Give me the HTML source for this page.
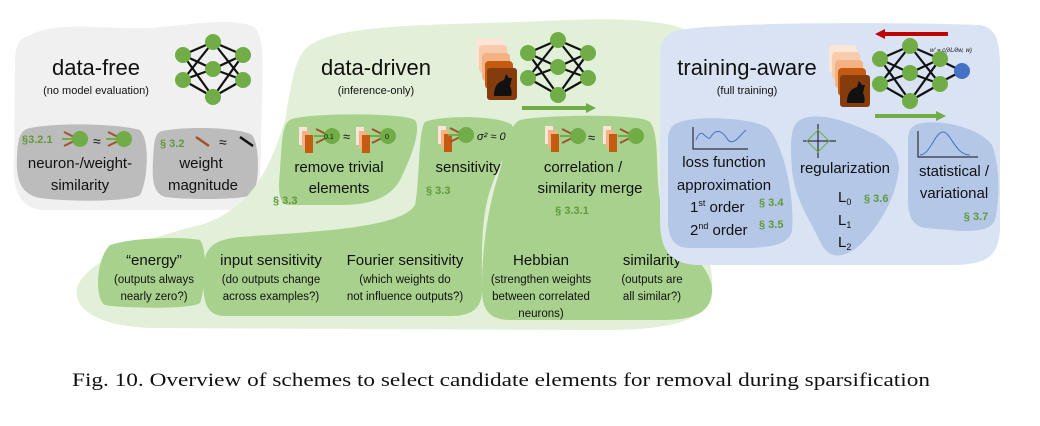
<!DOCTYPE html>
<html><head><meta charset="utf-8"><style>
html,body{margin:0;padding:0;background:#fff}
svg{display:block}
text{font-family:"Liberation Sans",sans-serif;fill:#111}
.t{font-size:22px}
.s{font-size:11px}
.l{font-size:15px}
.m{font-size:11.5px}
.g{fill:#5e9a3a;font-size:11px;font-weight:bold}
</style></head><body>
<svg width="1040" height="426" viewBox="0 0 1040 426" xmlns="http://www.w3.org/2000/svg">
<defs>
<g id="nn">
 <g stroke="#111" stroke-width="2.2">
  <line x1="0" y1="13" x2="30" y2="0"/><line x1="0" y1="13" x2="30" y2="27"/><line x1="0" y1="13" x2="30" y2="55"/>
  <line x1="0" y1="38" x2="30" y2="0"/><line x1="0" y1="38" x2="30" y2="27"/><line x1="0" y1="38" x2="30" y2="55"/>
  <line x1="60" y1="13" x2="30" y2="0"/><line x1="60" y1="13" x2="30" y2="27"/><line x1="60" y1="13" x2="30" y2="55"/>
  <line x1="60" y1="38" x2="30" y2="0"/><line x1="60" y1="38" x2="30" y2="27"/><line x1="60" y1="38" x2="30" y2="55"/>
 </g>
 <g fill="#70ad47"><circle cx="0" cy="13" r="8"/><circle cx="0" cy="38" r="8"/><circle cx="30" cy="0" r="8"/><circle cx="30" cy="27" r="8"/><circle cx="30" cy="55" r="8"/><circle cx="60" cy="13" r="8"/><circle cx="60" cy="38" r="8"/></g>
</g>
<g id="stk">
 <rect x="0" y="0" width="28" height="28" rx="4" fill="#fbe5d6"/>
 <rect x="3" y="7" width="28" height="28" rx="4" fill="#f8cbad"/>
 <rect x="6" y="15" width="28" height="28" rx="4" fill="#f4b183"/>
 <rect x="9" y="23" width="28" height="28" rx="4" fill="#c55a11"/>
 <rect x="11" y="30" width="30" height="32" rx="3" fill="#843c0c"/>
 <path d="M18,58 C18,48 22,44 28,42 L30,36 L33,40 L36,40 L34,48 C36,52 36,56 35,58Z" fill="#111"/>
</g>
<g id="neu">
 <g stroke="#a0522d" stroke-width="2"><line x1="-14" y1="-7" x2="0" y2="0"/><line x1="-16" y1="0" x2="0" y2="0" stroke="#70ad47"/><line x1="-14" y1="7" x2="0" y2="0"/></g>
 <circle cx="2" cy="0" r="8" fill="#70ad47"/>
</g>
<g id="os">
 <rect x="0" y="0" width="8" height="18" fill="#fbe5d6"/><rect x="3" y="4" width="8" height="18" fill="#f4b183"/><rect x="6" y="8" width="8" height="18" fill="#c55a11"/>
</g>
</defs>

<!-- data-free -->
<path d="M30,35 C60,20 110,30 150,28 C190,25 220,18 250,25 C265,30 263,60 262,100 L260,190 C258,205 245,210 230,210 L45,210 C20,210 12,190 14,160 L15,60 C16,40 22,38 30,35Z" fill="#f0f0f0"/>
<path d="M30,128 C60,122 120,124 140,130 C150,140 148,180 140,195 C130,202 70,202 40,198 C18,194 16,175 17,155 C18,138 20,130 30,128Z" fill="#bcbcbc"/>
<path d="M162,131 C185,126 240,127 252,135 C260,145 260,185 252,195 C240,200 190,200 165,197 C153,193 152,180 153,160 C154,140 155,133 162,131Z" fill="#bcbcbc"/>
<use href="#nn" x="183" y="42"/>
<text class="t" x="96" y="75" text-anchor="middle">data-free</text>
<text class="s" x="96" y="94" text-anchor="middle">(no model evaluation)</text>
<text class="g" x="22" y="143">§3.2.1</text>
<use href="#neu" x="78" y="139"/><text x="93" y="146" font-size="14">≈</text><use href="#neu" x="122" y="139"/>
<text class="l" x="80" y="168" text-anchor="middle">neuron-/weight-</text>
<text class="l" x="80" y="190" text-anchor="middle">similarity</text>
<text class="g" x="160" y="147">§ 3.2</text>
<line x1="196" y1="137" x2="209" y2="146" stroke="#a0522d" stroke-width="2.5"/>
<text x="219" y="147" font-size="14">≈</text>
<line x1="240" y1="137" x2="253" y2="146" stroke="#111" stroke-width="2.5"/>
<text class="l" x="201" y="168" text-anchor="middle">weight</text>
<text class="l" x="203" y="190" text-anchor="middle">magnitude</text>

<!-- data-driven -->
<path d="M310,45 C340,25 420,25 520,22 C600,18 680,15 700,40 C715,70 705,120 700,180 C695,230 715,260 712,290 C708,325 660,330 600,330 L150,328 C100,326 70,310 78,285 C90,260 140,240 200,225 C250,210 270,170 285,120 C292,80 295,55 310,45Z" fill="#e2efd9"/>
<path d="M290,120 C300,113 400,112 415,120 C422,130 410,160 400,180 C390,198 370,205 340,205 L290,205 C278,205 278,190 280,170 C282,140 282,125 290,120Z" fill="#a9d18e"/>
<path d="M425,122 C440,115 500,115 512,125 C518,135 500,160 492,185 C480,215 482,260 482,290 C482,310 470,316 450,316 L225,316 C205,316 203,300 203,275 C203,245 215,240 240,237 C300,232 400,230 415,205 C420,180 418,130 425,122Z" fill="#a9d18e"/>
<path d="M110,245 C130,238 180,236 200,240 C208,250 205,290 200,303 C190,310 120,308 105,305 C95,300 95,260 110,245Z" fill="#a9d18e"/>
<path d="M520,120 C540,115 640,113 650,122 C660,135 655,170 660,200 C665,240 712,260 712,290 C712,315 690,320 660,320 L510,320 C490,320 482,310 482,290 C482,240 490,200 500,170 C508,140 510,125 520,120Z" fill="#a9d18e"/>
<use href="#stk" x="476" y="38"/>
<use href="#nn" x="528" y="40"/>
<line x1="522" y1="108" x2="588" y2="108" stroke="#70ad47" stroke-width="4"/><path d="M586,103 L596,108 L586,113Z" fill="#70ad47"/>
<text class="t" x="376" y="75" text-anchor="middle">data-driven</text>
<text class="s" x="376" y="94" text-anchor="middle">(inference-only)</text>
<use href="#os" x="299" y="127"/><use href="#neu" x="330" y="136"/><text x="324" y="139" font-size="7">0.1</text>
<text x="343" y="141" font-size="13">≈</text>
<use href="#os" x="356" y="127"/><use href="#neu" x="386" y="136"/><text x="385" y="139" font-size="7">0</text>
<text class="l" x="339" y="172" text-anchor="middle">remove trivial</text>
<text class="l" x="339" y="193" text-anchor="middle">elements</text>
<text class="g" x="273" y="204">§ 3.3</text>
<use href="#os" x="438" y="126"/><use href="#neu" x="464" y="135"/>
<text x="477" y="140" font-size="11" font-family="Liberation Serif" font-style="italic">σ² ≈ 0</text>
<text class="l" x="468" y="172" text-anchor="middle">sensitivity</text>
<text class="g" x="426" y="194">§ 3.3</text>
<use href="#os" x="545" y="126"/><use href="#neu" x="576" y="136"/><text x="588" y="142" font-size="13">≈</text>
<use href="#os" x="603" y="126"/><use href="#neu" x="634" y="136"/>
<text class="l" x="583" y="172" text-anchor="middle">correlation /</text>
<text class="l" x="590" y="193" text-anchor="middle">similarity merge</text>
<text class="g" x="572" y="214" text-anchor="middle">§ 3.3.1</text>
<text class="l" x="154" y="265" text-anchor="middle">“energy”</text>
<text class="m" x="154" y="283" text-anchor="middle">(outputs always</text>
<text class="m" x="154" y="300" text-anchor="middle">nearly zero?)</text>
<text class="l" x="271" y="265" text-anchor="middle">input sensitivity</text>
<text class="m" x="271" y="283" text-anchor="middle">(do outputs change</text>
<text class="m" x="271" y="300" text-anchor="middle">across examples?)</text>
<text class="l" x="405" y="265" text-anchor="middle">Fourier sensitivity</text>
<text class="m" x="405" y="283" text-anchor="middle">(which weights do</text>
<text class="m" x="405" y="300" text-anchor="middle">not influence outputs?)</text>
<text class="l" x="541" y="265" text-anchor="middle">Hebbian</text>
<text class="m" x="541" y="283" text-anchor="middle">(strengthen weights</text>
<text class="m" x="541" y="300" text-anchor="middle">between correlated</text>
<text class="m" x="541" y="317" text-anchor="middle">neurons)</text>
<text class="l" x="652" y="265" text-anchor="middle">similarity</text>
<text class="m" x="652" y="283" text-anchor="middle">(outputs are</text>
<text class="m" x="652" y="300" text-anchor="middle">all similar?)</text>

<!-- training-aware -->
<path d="M680,30 C720,22 900,22 980,25 C998,28 1000,45 1000,70 L1000,230 C998,258 985,265 950,265 L700,265 C670,265 660,250 660,220 L660,60 C660,40 665,33 680,30Z" fill="#dae3f3"/>
<path d="M680,122 C700,115 760,118 770,130 C785,150 795,200 792,230 C790,245 770,248 740,248 L690,248 C672,248 668,235 668,220 L668,140 C668,130 672,124 680,122Z" fill="#b4c7e7"/>
<path d="M800,120 C815,112 840,118 870,132 C890,140 902,155 898,175 C894,200 880,225 860,245 C845,258 830,260 822,245 C810,220 795,200 792,170 C790,145 790,125 800,120Z" fill="#b4c7e7"/>
<path d="M918,124 C940,118 980,128 992,145 C1000,165 1000,200 995,220 C990,232 970,232 950,230 L925,228 C912,226 908,215 908,200 L908,140 C908,130 912,126 918,124Z" fill="#b4c7e7"/>
<use href="#stk" x="829" y="45"/>
<g stroke="#111" stroke-width="2.2"><line x1="939" y1="60" x2="962" y2="71"/><line x1="939" y1="83" x2="962" y2="71"/></g>
<use href="#nn" x="880" y="46"/>
<circle cx="962" cy="71" r="8" fill="#4472c4"/>
<line x1="883" y1="34" x2="948" y2="34" stroke="#c00000" stroke-width="4"/><path d="M885,29 L875,34 L885,39Z" fill="#c00000"/>
<line x1="875" y1="116" x2="938" y2="116" stroke="#70ad47" stroke-width="4"/><path d="M936,111 L946,116 L936,121Z" fill="#70ad47"/>
<text x="930" y="52" font-size="6" font-family="Liberation Serif" font-style="italic">w′ = c(∂L/∂w, w)</text>
<text class="t" x="747" y="75" text-anchor="middle">training-aware</text>
<text class="s" x="747" y="94" text-anchor="middle">(full training)</text>
<path d="M693,127 L693,149 L748,149" fill="none" stroke="#111" stroke-width="1"/>
<path d="M696,140 C702,125 705,140 710,138 C716,128 722,130 728,140 C734,146 740,135 746,130" fill="none" stroke="#4472c4" stroke-width="1"/>
<text class="l" x="724" y="167" text-anchor="middle">loss function</text>
<text class="l" x="724" y="190" text-anchor="middle">approximation</text>
<text class="l" x="690" y="212">1<tspan font-size="9" dy="-6">st</tspan><tspan dy="6"> order</tspan></text>
<text class="l" x="690" y="235">2<tspan font-size="9" dy="-6">nd</tspan><tspan dy="6"> order</tspan></text>
<text class="g" x="759" y="206">§ 3.4</text>
<text class="g" x="759" y="228">§ 3.5</text>
<line x1="818" y1="124" x2="818" y2="158" stroke="#111"/><line x1="803" y1="141" x2="836" y2="141" stroke="#111"/>
<path d="M818,130 L829,141 L818,152 L807,141Z" fill="none" stroke="#70ad47"/>
<text class="l" x="845" y="173" text-anchor="middle">regularization</text>
<text class="l" x="838" y="202">L<tspan font-size="9" dy="3">0</tspan></text>
<text class="l" x="838" y="225">L<tspan font-size="9" dy="3">1</tspan></text>
<text class="l" x="838" y="247">L<tspan font-size="9" dy="3">2</tspan></text>
<text class="g" x="864" y="202">§ 3.6</text>
<path d="M918,131 L918,157 L978,157" fill="none" stroke="#111" stroke-width="1"/>
<path d="M920,155 C930,155 935,132 943,132 C951,132 955,155 970,155" fill="none" stroke="#4472c4" stroke-width="1"/>
<text class="l" x="954" y="176" text-anchor="middle">statistical /</text>
<text class="l" x="954" y="198" text-anchor="middle">variational</text>
<text class="g" x="976" y="220" text-anchor="middle">§ 3.7</text>

<text x="72" y="386" font-size="19" style="font-family:'Liberation Serif',serif" textLength="858" lengthAdjust="spacingAndGlyphs">Fig. 10.  Overview of schemes to select candidate elements for removal during sparsification</text>
</svg>
</body></html>
